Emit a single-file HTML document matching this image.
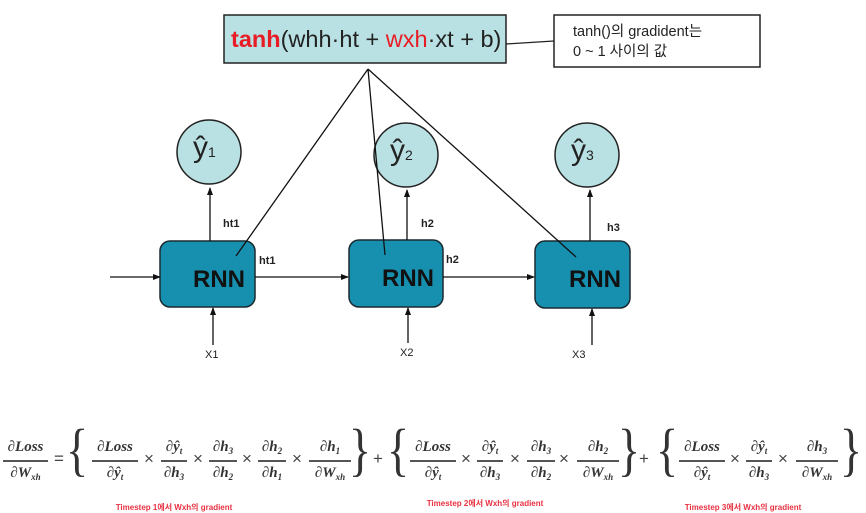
<!DOCTYPE html>
<html><head><meta charset="utf-8"><style>
body{margin:0;width:866px;height:512px;background:#fff;position:relative;overflow:hidden;font-family:"Liberation Sans","Noto Sans CJK KR",sans-serif}
.a{position:absolute}
.fr{position:absolute;font-family:"Liberation Serif",serif;font-style:italic;font-weight:bold;font-size:15px;color:#333;text-align:center}
.fr .n{position:absolute;left:0;right:0;top:0;white-space:nowrap}
.fr .l{position:absolute;left:0;right:0;top:21px;height:1.5px;background:#555}
.fr .d{position:absolute;left:0;right:0;top:26px;white-space:nowrap}
sub{font-size:9px;vertical-align:-3px}
.x{position:absolute;top:449px;font-family:"Liberation Sans",sans-serif;font-size:17px;color:#444;transform:translateX(-50%)}
.br{position:absolute;top:421px;font-family:"Liberation Serif",serif;font-size:58px;line-height:58px;color:#333;transform:translateX(-50%) scaleX(0.8)}
.red{position:absolute;top:502px;font-size:8px;font-weight:bold;color:#e83040;white-space:nowrap;transform:translateX(-50%)}
</style></head><body>
<svg class="a" style="left:0;top:0" width="866" height="512">
<defs><marker id="ar" markerWidth="8" markerHeight="8" refX="7" refY="4" orient="auto" markerUnits="userSpaceOnUse"><path d="M0,1 L8,4 L0,7 z" fill="#111"/></marker></defs>
<rect x="224" y="15" width="282" height="48" fill="#b9e0e3" stroke="#222" stroke-width="1.5"/>
<rect x="554" y="15" width="206" height="52" fill="#fff" stroke="#222" stroke-width="1.5"/>
<line x1="506" y1="44" x2="554" y2="41" stroke="#222" stroke-width="1.3"/>
<circle cx="209" cy="152" r="32" fill="#b9e0e3" stroke="#222" stroke-width="1.5"/>
<circle cx="406" cy="155" r="32" fill="#b9e0e3" stroke="#222" stroke-width="1.5"/>
<circle cx="587" cy="155" r="32" fill="#b9e0e3" stroke="#222" stroke-width="1.5"/>
<rect x="160" y="241" width="95" height="66" rx="10" fill="#1790b0" stroke="#1a2a30" stroke-width="1.5"/>
<rect x="349" y="240" width="94" height="67" rx="10" fill="#1790b0" stroke="#1a2a30" stroke-width="1.5"/>
<rect x="535" y="241" width="95" height="67" rx="10" fill="#1790b0" stroke="#1a2a30" stroke-width="1.5"/>
<g stroke="#111" stroke-width="1.3" fill="none">
<line x1="368" y1="69" x2="236" y2="256"/>
<line x1="368" y1="69" x2="385" y2="255"/>
<line x1="368" y1="69" x2="576" y2="257"/>
<line x1="210" y1="241" x2="210" y2="188" marker-end="url(#ar)"/>
<line x1="407" y1="240" x2="407" y2="190" marker-end="url(#ar)"/>
<line x1="590" y1="241" x2="590" y2="190" marker-end="url(#ar)"/>
<line x1="110" y1="277" x2="160" y2="277" marker-end="url(#ar)"/>
<line x1="255" y1="277" x2="348" y2="277" marker-end="url(#ar)"/>
<line x1="443" y1="277" x2="534" y2="277" marker-end="url(#ar)"/>
<line x1="213" y1="345" x2="213" y2="308" marker-end="url(#ar)"/>
<line x1="408" y1="343" x2="408" y2="308" marker-end="url(#ar)"/>
<line x1="592" y1="345" x2="592" y2="309" marker-end="url(#ar)"/>
</g>
</svg>
<div class="a" style="left:231px;top:26px;font-size:23.5px;color:#222;white-space:nowrap"><b style="color:#e81c24">tanh</b>(whh·ht + <span style="color:#e81c24">wxh</span>·xt + b)</div>
<div class="a" style="left:573px;top:22px;font-size:14.5px;line-height:20px;color:#222;white-space:nowrap">tanh()의 gradident는<br>0 ~ 1 사이의 값</div>
<div class="a" style="left:193px;top:131px;font-size:30px;color:#222">ŷ<span style="font-size:14px">1</span></div>
<div class="a" style="left:390px;top:134px;font-size:30px;color:#222">ŷ<span style="font-size:14px">2</span></div>
<div class="a" style="left:571px;top:134px;font-size:30px;color:#222">ŷ<span style="font-size:14px">3</span></div>
<div class="a" style="left:193px;top:266px;font-size:24px;font-weight:bold;color:#111">RNN</div>
<div class="a" style="left:382px;top:265px;font-size:24px;font-weight:bold;color:#111">RNN</div>
<div class="a" style="left:569px;top:266px;font-size:24px;font-weight:bold;color:#111">RNN</div>
<div class="a" style="left:223px;top:218px;font-size:11px;font-weight:bold;color:#222">ht1</div>
<div class="a" style="left:259px;top:255px;font-size:11px;font-weight:bold;color:#222">ht1</div>
<div class="a" style="left:421px;top:218px;font-size:11px;font-weight:bold;color:#222">h2</div>
<div class="a" style="left:446px;top:254px;font-size:11px;font-weight:bold;color:#222">h2</div>
<div class="a" style="left:607px;top:222px;font-size:11px;font-weight:bold;color:#222">h3</div>
<div class="a" style="left:205px;top:349px;font-size:11px;color:#222">X1</div>
<div class="a" style="left:400px;top:347px;font-size:11px;color:#222">X2</div>
<div class="a" style="left:572px;top:349px;font-size:11px;color:#222">X3</div>

<div class="fr" style="left:3px;top:439px;width:45px"><div class="n">∂Loss</div><div class="l"></div><div class="d">∂W<sub>xh</sub></div></div>
<div class="x" style="left:59px">=</div>
<div class="br" style="left:77px">{</div>
<div class="fr" style="left:92px;top:439px;width:46px"><div class="n">∂Loss</div><div class="l"></div><div class="d">∂ŷ<sub>t</sub></div></div>
<div class="x" style="left:149px">×</div>
<div class="fr" style="left:161px;top:439px;width:26px"><div class="n">∂ŷ<sub>t</sub></div><div class="l"></div><div class="d">∂h<sub>3</sub></div></div>
<div class="x" style="left:198px">×</div>
<div class="fr" style="left:209px;top:439px;width:28px"><div class="n">∂h<sub>3</sub></div><div class="l"></div><div class="d">∂h<sub>2</sub></div></div>
<div class="x" style="left:247px">×</div>
<div class="fr" style="left:258px;top:439px;width:28px"><div class="n">∂h<sub>2</sub></div><div class="l"></div><div class="d">∂h<sub>1</sub></div></div>
<div class="x" style="left:297px">×</div>
<div class="fr" style="left:309px;top:439px;width:42px"><div class="n">∂h<sub>1</sub></div><div class="l"></div><div class="d">∂W<sub>xh</sub></div></div>
<div class="br" style="left:360px">}</div>
<div class="x" style="left:378px">+</div>
<div class="br" style="left:398px">{</div>
<div class="fr" style="left:410px;top:439px;width:46px"><div class="n">∂Loss</div><div class="l"></div><div class="d">∂ŷ<sub>t</sub></div></div>
<div class="x" style="left:466px">×</div>
<div class="fr" style="left:477px;top:439px;width:26px"><div class="n">∂ŷ<sub>t</sub></div><div class="l"></div><div class="d">∂h<sub>3</sub></div></div>
<div class="x" style="left:515px">×</div>
<div class="fr" style="left:527px;top:439px;width:28px"><div class="n">∂h<sub>3</sub></div><div class="l"></div><div class="d">∂h<sub>2</sub></div></div>
<div class="x" style="left:564px">×</div>
<div class="fr" style="left:577px;top:439px;width:42px"><div class="n">∂h<sub>2</sub></div><div class="l"></div><div class="d">∂W<sub>xh</sub></div></div>
<div class="br" style="left:629px">}</div>
<div class="x" style="left:644px">+</div>
<div class="br" style="left:667px">{</div>
<div class="fr" style="left:679px;top:439px;width:46px"><div class="n">∂Loss</div><div class="l"></div><div class="d">∂ŷ<sub>t</sub></div></div>
<div class="x" style="left:735px">×</div>
<div class="fr" style="left:746px;top:439px;width:26px"><div class="n">∂ŷ<sub>t</sub></div><div class="l"></div><div class="d">∂h<sub>3</sub></div></div>
<div class="x" style="left:783px">×</div>
<div class="fr" style="left:796px;top:439px;width:42px"><div class="n">∂h<sub>3</sub></div><div class="l"></div><div class="d">∂W<sub>xh</sub></div></div>
<div class="br" style="left:851px">}</div>

<div class="red" style="left:174px">Timestep 1에서 Wxh의 gradient</div>
<div class="red" style="left:485px;top:498px">Timestep 2에서 Wxh의 gradient</div>
<div class="red" style="left:743px">Timestep 3에서 Wxh의 gradient</div>
</body></html>
